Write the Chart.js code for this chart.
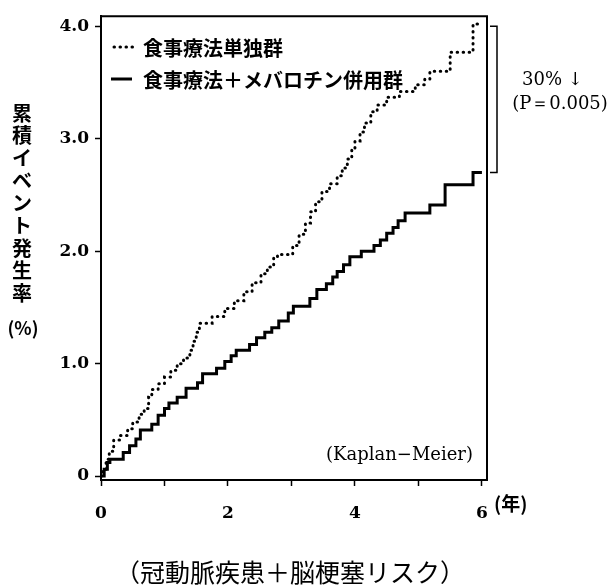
<!DOCTYPE html>
<html>
<head>
<meta charset="utf-8">
<script src="https://cdn.jsdelivr.net/npm/chart.js@4.4.1/dist/chart.umd.min.js"></script>
<style>
  html, body { margin: 0; padding: 0; background: #fff; }
  canvas { display: block; }
</style>
</head>
<body>
<canvas id="km" width="614" height="586"></canvas>
<script>
// Kaplan-Meier steps: time (years) and cumulative event rate (%)
const dietTimes = [0, 0.03, 0.08, 0.13, 0.2, 0.3, 0.42, 0.5, 0.6, 0.68, 0.75, 0.8, 0.9, 1.0, 1.1,
  1.2, 1.3, 1.4, 1.45, 1.5, 1.55, 1.75, 1.95, 2.1, 2.25, 2.38, 2.52, 2.62, 2.72, 2.78,
  3.02, 3.12, 3.22, 3.3, 3.38, 3.48, 3.6, 3.72, 3.8, 3.88, 3.95, 4.0, 4.08, 4.15, 4.25,
  4.35, 4.5, 4.7, 4.95, 5.1, 5.18, 5.5, 5.86, 6.0];
const dietRates = [0, 0.06, 0.15, 0.22, 0.32, 0.36, 0.42, 0.48, 0.55, 0.6, 0.7, 0.77, 0.82, 0.88, 0.94,
  1.0, 1.05, 1.12, 1.2, 1.28, 1.36, 1.42, 1.49, 1.56, 1.64, 1.72, 1.8, 1.86, 1.94, 1.97,
  2.05, 2.15, 2.25, 2.35, 2.44, 2.53, 2.6, 2.67, 2.74, 2.82, 2.9, 2.98, 3.06, 3.14, 3.24,
  3.3, 3.37, 3.42, 3.48, 3.53, 3.6, 3.77, 4.02, 4.02];

const comboTimes = [0, 0.05, 0.1, 0.14, 0.35, 0.45, 0.55, 0.62, 0.8, 0.9, 1.0, 1.07, 1.2, 1.34, 1.52,
  1.6, 1.82, 1.95, 2.05, 2.13, 2.34, 2.45, 2.58, 2.69, 2.8, 2.95, 3.03, 3.29, 3.4, 3.55,
  3.65, 3.72, 3.82, 3.92, 4.1, 4.3, 4.4, 4.5, 4.6, 4.68, 4.79, 5.18, 5.42, 5.86, 6.0];
const comboRates = [0, 0.06, 0.12, 0.15, 0.21, 0.27, 0.33, 0.41, 0.46, 0.54, 0.6, 0.65, 0.7, 0.78, 0.83,
  0.91, 0.96, 1.02, 1.07, 1.12, 1.17, 1.23, 1.28, 1.32, 1.38, 1.45, 1.51, 1.58, 1.66, 1.71,
  1.77, 1.82, 1.88, 1.95, 2.0, 2.05, 2.1, 2.16, 2.21, 2.27, 2.34, 2.41, 2.59, 2.70, 2.70];

const seriesNames = ['食事療法単独群', '食事療法＋メバロチン併用群'];
const xTickValues = [0, 1, 2, 3, 4, 5, 6];
const xTickLabels = ['0', '', '2', '', '4', '', '6'];
const yTickValues = [0, 1, 2, 3, 4];
const yTickLabels = ['0', '1.0', '2.0', '3.0', '4.0'];
const yTitleChars = ['累', '積', 'イ', 'ベ', 'ン', 'ト', '発', '生', '率'];
const bracketFrom = 4.0;
const bracketTo = 2.70;

const jpBold = '"Noto Sans CJK JP", sans-serif';
const serif = '"DejaVu Serif", "Liberation Serif", serif';
const dots = [0.5, 5.5];

function points(xs, ys) {
  return xs.map((t, i) => ({ x: t, y: ys[i] }));
}

const extras = {
  id: 'extras',
  afterDraw(chart) {
    const { ctx, chartArea: a, scales: { y } } = chart;
    ctx.save();
    ctx.strokeStyle = '#000';
    ctx.fillStyle = '#000';

    // top and right edge of the frame
    ctx.lineWidth = 2;
    ctx.beginPath();
    ctx.moveTo(a.left, a.top);
    ctx.lineTo(a.right, a.top);
    ctx.lineTo(a.right, a.bottom);
    ctx.stroke();

    // legend inside the plot
    ctx.lineWidth = 3;
    ctx.lineCap = 'round';
    ctx.setLineDash(dots);
    ctx.beginPath();
    ctx.moveTo(114, 47);
    ctx.lineTo(133, 47);
    ctx.stroke();
    ctx.setLineDash([]);
    ctx.lineCap = 'butt';
    ctx.beginPath();
    ctx.moveTo(111, 79);
    ctx.lineTo(132, 79);
    ctx.stroke();
    ctx.font = 'bold 20px ' + jpBold;
    ctx.textBaseline = 'middle';
    ctx.textAlign = 'left';
    ctx.fillText(seriesNames[0], 143, 48);
    ctx.fillText(seriesNames[1], 143, 80);

    // bracket between the two end values
    const bx = a.right + 10;
    const y1 = y.getPixelForValue(bracketFrom);
    const y2 = y.getPixelForValue(bracketTo);
    ctx.lineWidth = 1.5;
    ctx.beginPath();
    ctx.moveTo(a.right + 3, y1);
    ctx.lineTo(bx, y1);
    ctx.lineTo(bx, y2);
    ctx.lineTo(a.right + 3, y2);
    ctx.stroke();

    ctx.font = '18px ' + serif;
    ctx.textAlign = 'left';
    ctx.fillText('30% ↓', 522, 80);
    ctx.textAlign = 'center';
    ctx.fillText('(P＝0.005)', 560, 104);

    ctx.textAlign = 'right';
    ctx.fillText('(Kaplan−Meier)', a.right - 14, 455);

    // vertical y title, upright characters
    ctx.textAlign = 'center';
    ctx.font = 'bold 20px ' + jpBold;
    yTitleChars.forEach((c, i) => ctx.fillText(c, 22, 113 + i * 22.5));
    ctx.font = 'bold 18px ' + jpBold;
    ctx.fillText('(%)', 23, 328);

    // unit of x axis
    ctx.textAlign = 'left';
    ctx.font = 'bold 19px ' + jpBold;
    ctx.fillText('(年)', 494, 504);

    // caption
    ctx.textAlign = 'center';
    ctx.font = '25px ' + jpBold;
    ctx.fillText('（冠動脈疾患＋脳梗塞リスク）', 290, 572);
    ctx.restore();
  }
};

new Chart(document.getElementById('km'), {
  type: 'line',
  data: {
    datasets: [{
      label: seriesNames[0],
      data: points(dietTimes, dietRates),
      stepped: 'before',
      borderColor: '#000',
      borderWidth: 3,
      borderDash: dots,
      borderCapStyle: 'round',
      pointRadius: 0,
      fill: false
    }, {
      label: seriesNames[1],
      data: points(comboTimes, comboRates),
      stepped: 'before',
      borderColor: '#000',
      borderWidth: 3,
      pointRadius: 0,
      fill: false
    }]
  },
  options: {
    responsive: false,
    devicePixelRatio: 1,
    animation: false,
    layout: { padding: { left: 0, top: 13, right: 127, bottom: 66 } },
    plugins: {
      legend: { display: false },
      title: { display: false },
      tooltip: { enabled: false }
    },
    scales: {
      x: {
        type: 'linear',
        min: 0,
        max: 6.08,
        afterBuildTicks: s => { s.ticks = xTickValues.map(v => ({ value: v })); },
        afterFit: s => { s.height = 40; },
        ticks: {
          autoSkip: false,
          maxRotation: 0,
          padding: 17,
          color: '#000',
          font: { family: serif, size: 17, weight: 'bold' },
          callback: (v, i) => xTickLabels[i]
        },
        grid: { drawOnChartArea: false, drawTicks: true, tickLength: 6, tickColor: '#000', tickWidth: 1.5 },
        border: { display: true, color: '#000', width: 2 }
      },
      y: {
        min: -0.035,
        max: 4.09,
        afterBuildTicks: s => { s.ticks = yTickValues.map(v => ({ value: v })); },
        afterFit: s => { s.width = 101; },
        ticks: {
          autoSkip: false,
          padding: 6,
          color: '#000',
          font: { family: serif, size: 17, weight: 'bold' },
          callback: (v, i) => yTickLabels[i]
        },
        grid: { drawOnChartArea: false, drawTicks: true, tickLength: 6, tickColor: '#000', tickWidth: 1.5 },
        border: { display: true, color: '#000', width: 2 }
      }
    }
  },
  plugins: [extras]
});
</script>
</body>
</html>
